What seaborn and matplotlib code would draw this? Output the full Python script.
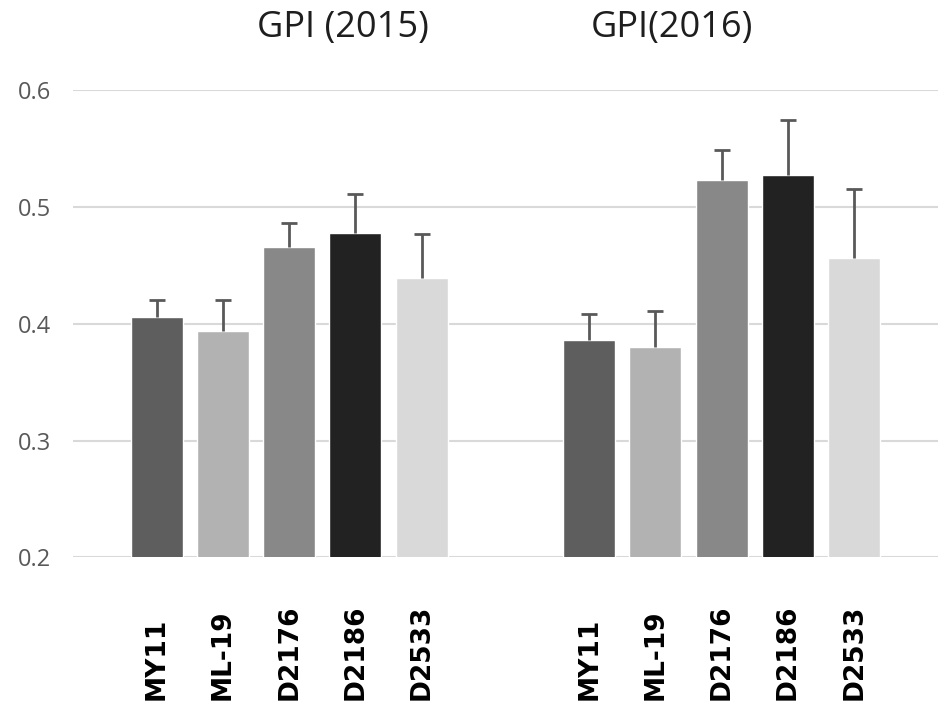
import seaborn as sns
import pandas as pd
import matplotlib.pyplot as plt
import matplotlib.transforms as mtransforms

years = ["2015", "2016"]
titles = ["GPI (2015)", "GPI(2016)"]
cultivars = ["MY11", "ML-19", "D2176", "D2186", "D2533"]
colors = ["#5e5e5e", "#b2b2b2", "#888888", "#222222", "#d9d9d9"]

gpi_2015 = [0.406, 0.394, 0.466, 0.478, 0.439]
err_2015 = [0.014, 0.026, 0.020, 0.033, 0.038]
gpi_2016 = [0.386, 0.380, 0.523, 0.527, 0.456]
err_2016 = [0.022, 0.031, 0.026, 0.047, 0.059]

yticks = [0.2, 0.3, 0.4, 0.5, 0.6]


def build_frame():
    rows = []
    for year, vals, errs in [("2015", gpi_2015, err_2015), ("2016", gpi_2016, err_2016)]:
        for name, v, e in zip(cultivars, vals, errs):
            rows.append({"year": year, "cultivar": name, "gpi": v, "err": e})
    return pd.DataFrame(rows)


df = build_frame()

sns.set_theme(style="white")
plt.rcParams["font.family"] = ["Open Sans", "DejaVu Sans"]

fig = plt.figure(figsize=(9.5, 7.21), dpi=100)
ax = fig.add_axes([0.0768, 0.2268, 0.9105, 0.6484])

sns.barplot(
    data=df, x="year", y="gpi", hue="cultivar", order=years, hue_order=cultivars,
    palette=colors, saturation=1, width=0.766, gap=0.216, errorbar=None,
    legend=False, ax=ax,
)

# bars in x order line up with the frame (year, then cultivar)
bars = sorted(ax.patches, key=lambda p: p.get_x())
centers = [p.get_x() + p.get_width() / 2 for p in bars]

_, caps, _ = ax.errorbar(
    centers, df["gpi"], yerr=[[0] * len(df), df["err"]], fmt="none",
    ecolor="#595959", elinewidth=2, capsize=6, capthick=2, zorder=5,
)
# only the upper cap is shown
caps[0].set_visible(False)

# styling
ax.set_xlim(-0.5, 1.5)
ax.set_ylim(0.2, 0.6)
ax.set_yticks(yticks)
ax.set_yticklabels([f"{t:.1f}" for t in yticks])
ax.tick_params(axis="y", labelsize=17, labelcolor="#595959", length=0, pad=16)
ax.set_xticks([])
ax.set_xlabel("")
ax.set_ylabel("")
ax.yaxis.grid(True, color="#d9d9d9", linewidth=1.5)
ax.set_axisbelow(True)
for s in ax.spines.values():
    s.set_visible(False)

trans = mtransforms.blended_transform_factory(ax.transData, ax.transAxes)
for x, name in zip(centers, df["cultivar"]):
    ax.text(x, -0.305, name, transform=trans, rotation=90, ha="center", va="bottom",
            fontsize=19, fontweight="bold", color="black", family="DejaVu Sans")

fig.text(0.361, 0.961, titles[0], ha="center", va="center", fontsize=26, color="#1e1e1e")
fig.text(0.707, 0.961, titles[1], ha="center", va="center", fontsize=26, color="#1e1e1e")

fig.savefig("out.png", dpi=100)
